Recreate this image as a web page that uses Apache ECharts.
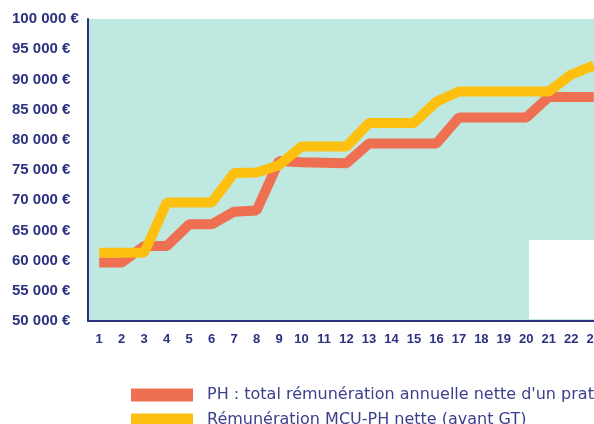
<!DOCTYPE html>
<html>
<head>
<meta charset="utf-8">
<script src="https://cdn.jsdelivr.net/npm/echarts@6/dist/echarts.min.js"></script>
<style>
  html, body { margin: 0; padding: 0; background: #fff; }
  #chart { width: 594px; height: 424px; }
</style>
</head>
<body>
<div id="chart"></div>
<script>
// années d'ancienneté
var categories = ['1','2','3','4','5','6','7','8','9','10','11','12','13','14','15','16','17','18','19','20','21','22','23'];
// PH : total rémunération annuelle nette
var phValues = [59700, 59700, 62400, 62400, 66000, 66000, 68100, 68300, 76500, 76300, 76200, 76100, 79400, 79400, 79400, 79400, 83700, 83700, 83700, 83700, 87100, 87100, 87100];
// MCU-PH nette (avant GT)
var mcuValues = [61300, 61300, 61300, 69600, 69600, 69600, 74500, 74600, 75800, 78900, 78900, 78900, 82800, 82800, 82800, 86300, 88000, 88000, 88000, 88000, 88000, 90800, 92300];
var seriesNames = [
  "PH : total rémunération annuelle nette d'un praticien hospitalier",
  "Rémunération MCU-PH nette (avant GT)"
];

var navy = '#2c3180';

function euro(v) {
  return String(v).replace(/\B(?=(\d{3})+(?!\d))/g, ' ') + ' €';
}

// une légende par série, pour garder les deux lignes sans retour en colonne
function legendFor(name, top) {
  return {
    orient: 'horizontal',
    left: 131, top: top, padding: 0,
    itemWidth: 62, itemHeight: 13,
    icon: 'rect',
    textStyle: { color: '#3b3f8c', fontSize: 16, fontFamily: 'DejaVu Sans', padding: [0, 0, 0, 9] },
    data: [name]
  };
}

var chart = echarts.init(document.getElementById('chart'));
chart.setOption({
  animation: false,
  backgroundColor: '#ffffff',
  grid: {
    left: 88, top: 19, width: 517, bottom: 103,
    outerBoundsMode: 'none',
    show: true, backgroundColor: '#bfe9e0', borderWidth: 0
  },
  legend: [legendFor(seriesNames[0], 387), legendFor(seriesNames[1], 412)],
  graphic: [{
    type: 'rect', z: 1,
    shape: { x: 529, y: 240, width: 70, height: 79 },
    style: { fill: '#ffffff' }
  }],
  xAxis: {
    type: 'category',
    data: categories,
    boundaryGap: true,
    axisLine: { show: true, lineStyle: { color: navy, width: 2 } },
    axisTick: { show: false },
    axisLabel: {
      interval: 0, margin: 12,
      color: navy, fontSize: 13, fontWeight: 'bold',
      fontFamily: 'Liberation Sans, sans-serif'
    },
    splitLine: { show: false }
  },
  yAxis: {
    type: 'value',
    min: 50000, max: 100000, interval: 5000,
    axisLine: { show: true, lineStyle: { color: navy, width: 2 } },
    axisTick: { show: false },
    splitLine: { show: false },
    axisLabel: {
      align: 'left', margin: 76,
      color: navy, fontSize: 15, fontWeight: 'bold',
      fontFamily: 'Liberation Sans, sans-serif',
      padding: [4, 0, 0, 0],
      formatter: euro
    }
  },
  series: [
    {
      name: seriesNames[0], type: 'line', data: phValues,
      color: '#ee6f52', showSymbol: false, z: 3,
      lineStyle: { width: 10, color: '#ee6f52', join: 'bevel' }
    },
    {
      name: seriesNames[1], type: 'line', data: mcuValues,
      color: '#fdc010', showSymbol: false, z: 4,
      lineStyle: { width: 10, color: '#fdc010', join: 'bevel' }
    }
  ]
});
</script>
</body>
</html>
